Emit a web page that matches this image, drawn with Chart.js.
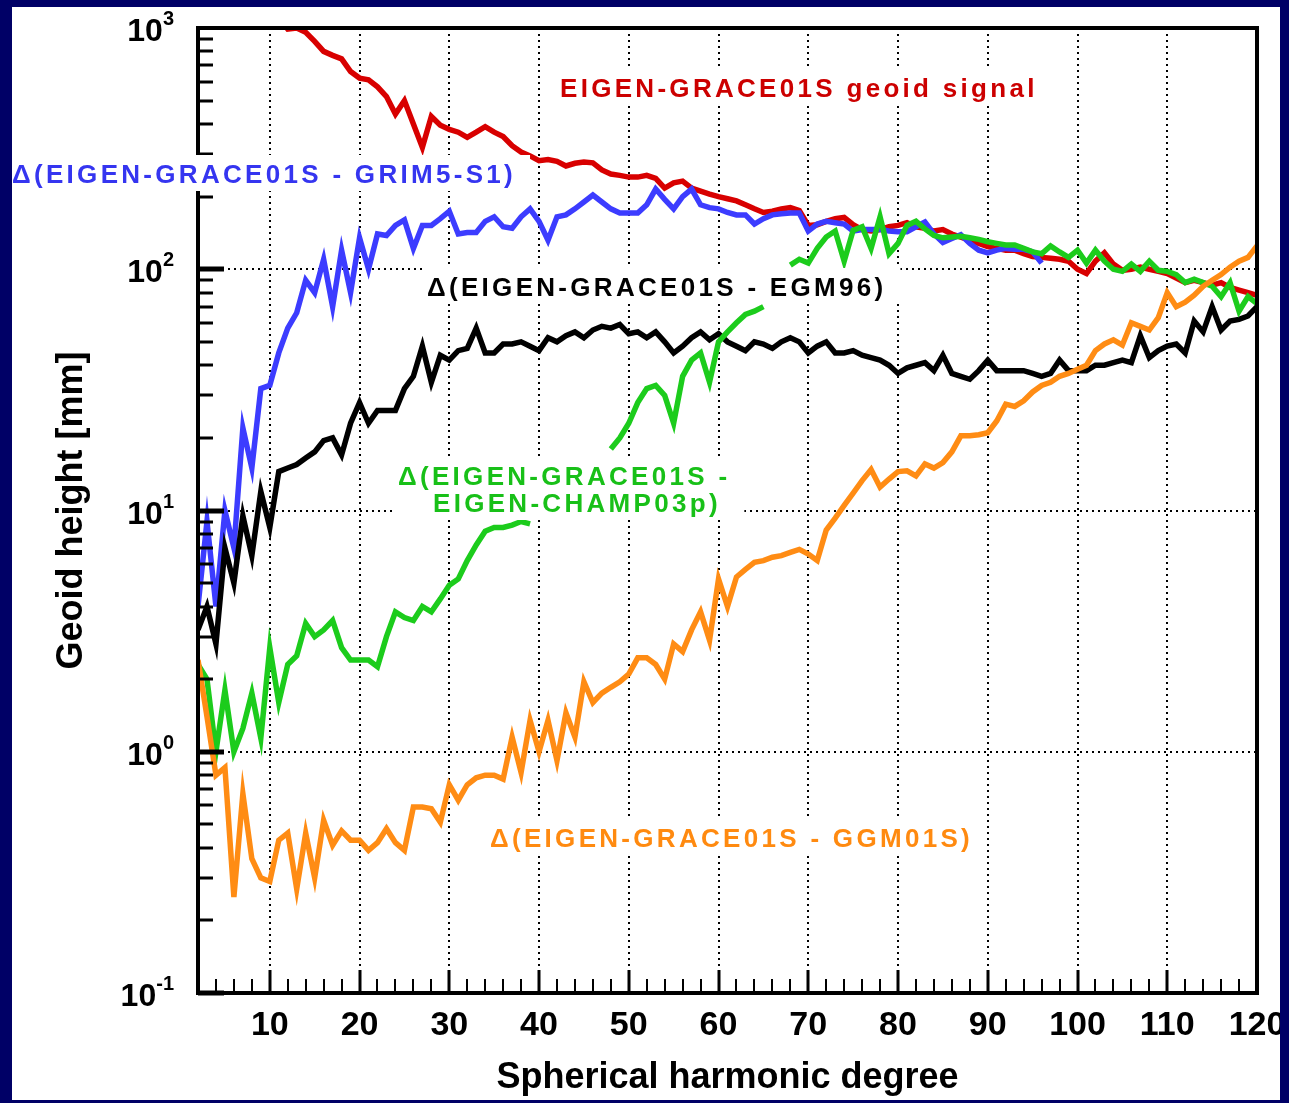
<!DOCTYPE html>
<html>
<head>
<meta charset="utf-8">
<script src="https://cdn.jsdelivr.net/npm/chart.js@4.4.1/dist/chart.umd.min.js"></script>
<style>
  html, body { margin: 0; padding: 0; background: #000066; width: 1289px; height: 1103px; overflow: hidden; }
  #wrap { position: absolute; left: 12px; top: 7px; width: 1268px; height: 1093px; background: #fff; }
</style>
</head>
<body>
<div id="wrap"><canvas id="geoidChart" width="1268" height="1093"></canvas></div>
<script>
const degree = [
  2, 3, 4, 5, 6, 7, 8, 9,
  10, 11, 12, 13, 14, 15, 16, 17, 18, 19,
  20, 21, 22, 23, 24, 25, 26, 27, 28, 29,
  30, 31, 32, 33, 34, 35, 36, 37, 38, 39,
  40, 41, 42, 43, 44, 45, 46, 47, 48, 49,
  50, 51, 52, 53, 54, 55, 56, 57, 58, 59,
  60, 61, 62, 63, 64, 65, 66, 67, 68, 69,
  70, 71, 72, 73, 74, 75, 76, 77, 78, 79,
  80, 81, 82, 83, 84, 85, 86, 87, 88, 89,
  90, 91, 92, 93, 94, 95, 96, 97, 98, 99,
  100, 101, 102, 103, 104, 105, 106, 107, 108, 109,
  110, 111, 112, 113, 114, 115, 116, 117, 118, 119,
  120,
]

// EIGEN-GRACE01S geoid signal [mm]
const geoidSignal = [
  null, null, null, null, null, null, null, null,
  null, 1100, 990, 1000, 960, 880, 800, 770, 745, 660,
  620, 610, 570, 520, 440, 500, 400, 320, 430, 395,
  380, 370, 352, 370, 390, 370, 355, 325, 306, 295,
  282, 285, 280, 268, 275, 278, 276, 258, 248, 245,
  241, 241, 245, 238, 217, 228, 232, 217, 211, 205,
  200, 196, 192, 185, 178, 172, 174, 178, 180, 175,
  152, 153, 158, 162, 164, 153, 146, 144, 146, 150,
  152, 156, 150, 148, 144, 146, 140, 136, 132, 128,
  124, 122, 120, 120, 116, 113, 112, 111, 110, 108,
  100, 96, 108, 117, 105, 99, 100, 102, 100, 98,
  96, 92, 88, 90, 88, 86, 88, 84, 82, 80,
  78,
]

// differences [mm]
const diffGrim5 = [
  4, 9, 4, 10, 7, 22, 15, 32,
  33, 45, 57, 66, 90, 80, 110, 70, 120, 80,
  135, 100, 140, 138, 152, 160, 122, 152, 152, 162,
  174, 140, 142, 142, 158, 165, 150, 148, 165, 178,
  158, 132, 165, 168, 178, 190, 203, 190, 178, 171,
  171, 171, 185, 215, 195, 178, 200, 215, 185, 180,
  178, 172, 168, 168, 154, 162, 168, 170, 171, 171,
  144, 154, 158, 156, 154, 144, 146, 146, 146, 144,
  143, 143, 150, 157, 140, 129, 134, 139, 128, 120,
  117, 120, 122, 121, 121, 118, 106, null, null, null,
  null, null, null, null, null, null, null, null, null, null,
  null, null, null, null, null, null, null, null, null, null,
  null,
]

const diffEgm96 = [
  3.2, 4.0, 2.8, 7.0, 5.0, 9.5, 6.5, 12,
  8.5, 14.5, 15, 15.5, 16.5, 17.5, 19.5, 20, 17, 23,
  28, 23, 26, 26, 26, 32, 36, 48, 34, 44,
  42, 46, 47, 57, 45, 45, 49, 49, 50, 48,
  46, 52, 50, 53, 55, 52, 56, 58, 57, 59,
  54, 55, 52, 55, 50, 45, 48, 52, 55, 51,
  54, 50, 48, 46, 50, 49, 47, 50, 52, 50,
  45, 48, 50, 45, 45, 46, 44, 43, 42, 40,
  37, 39, 40, 41, 38, 44, 37, 36, 35, 38,
  42, 38, 38, 38, 38, 37, 36, 37, 42, 38,
  38, 38, 40, 40, 41, 42, 41, 53, 43, 46,
  48, 49, 45, 61, 55, 70, 56, 61, 62, 64,
  70,
]

const diffChamp = [
  2.3, 2.0, 1.0, 1.8, 1.0, 1.25, 1.75, 1.14,
  2.7, 1.6, 2.3, 2.5, 3.4, 3.0, 3.2, 3.5, 2.7, 2.4,
  2.4, 2.4, 2.25, 3.0, 3.8, 3.6, 3.5, 4.0, 3.8, 4.3,
  4.9, 5.2, 6.2, 7.2, 8.2, 8.5, 8.5, 8.7, 9.0, 8.8,
  null, null, null, null, null, null, null, null, 18, 20,
  23, 28, 32, 33, 30, 23, 36, 42, 45, 34,
  50, 55, 60, 65, 67, 70, null, null, 104, 110,
  106, 122, 136, 144, 108, 145, 150, 122, 165, 116,
  128, 152, 158, 147, 138, 135, 136, 137, 135, 133,
  130, 128, 126, 126, 122, 118, 116, 125, 118, 112,
  120, 106, 120, 108, 100, 98, 105, 98, 108, 99,
  98, 95, 88, 91, 88, 85, 77, 88, 67, 77,
  72,
]

const diffGgm01 = [
  2.4, 1.4, 0.8, 0.86, 0.25, 0.67, 0.36, 0.30,
  0.29, 0.43, 0.46, 0.27, 0.46, 0.30, 0.52, 0.41, 0.47, 0.43,
  0.43, 0.39, 0.42, 0.48, 0.42, 0.39, 0.59, 0.59, 0.58, 0.51,
  0.73, 0.63, 0.73, 0.78, 0.80, 0.80, 0.77, 1.15, 0.82, 1.35,
  1.0, 1.35, 0.92, 1.45, 1.15, 1.95, 1.6, 1.75, 1.85, 1.95,
  2.1, 2.45, 2.45, 2.3, 2.0, 2.8, 2.6, 3.2, 3.8, 2.9,
  5.2, 4.0, 5.3, 5.7, 6.1, 6.2, 6.4, 6.5, 6.7, 6.9,
  6.6, 6.2, 8.3, 9.3, 10.5, 11.8, 13.3, 14.8, 12.5, 13.5,
  14.5, 14.6, 13.9, 15.6, 15.0, 15.8, 17.5, 20.4, 20.4, 20.6,
  21, 23.5, 27.6, 27, 28.5, 31, 33, 34, 36, 37,
  38.5, 40, 46, 49, 51, 48.5, 60, 58, 56, 63,
  80, 70, 73, 78, 85, 90, 95, 102, 108, 112,
  125,
]

const xTicks = [10, 20, 30, 40, 50, 60, 70, 80, 90, 100, 110, 120]
const yTicks = [0.1, 1, 10, 100, 1000]
const yTickExp = ['-1', '0', '1', '2', '3']

const FONT = '"Liberation Sans", Arial, Helvetica, sans-serif'

// curve labels, canvas pixels (white box behind like the original plot)
const notes = [
  { lines: ['EIGEN-GRACE01S geoid signal'], color: '#cc0000', x: [548], y: [81] },
  { lines: ['Δ(EIGEN-GRACE01S - GRIM5-S1)'], color: '#3535f0', x: [0], y: [167] },
  { lines: ['Δ(EIGEN-GRACE01S - EGM96)'], color: '#000000', x: [415], y: [280] },
  { lines: ['Δ(EIGEN-GRACE01S -', 'EIGEN-CHAMP03p)'], color: '#18c018', x: [386, 421], y: [469, 496] },
  { lines: ['Δ(EIGEN-GRACE01S - GGM01S)'], color: '#ff8a10', x: [478], y: [831] },
]

function pts(vals) {
  return degree.map((d, i) => ({ x: d, y: vals[i] }))
}

const plotDecor = {
  id: 'plotDecor',
  beforeDatasetsDraw(chart) {
    const { ctx, chartArea: a, scales: { x, y } } = chart
    ctx.save()
    ctx.strokeStyle = '#000'
    ctx.lineWidth = 2
    ctx.setLineDash([2, 4])
    xTicks.slice(0, -1).forEach(function (v) {
      const px = Math.round(x.getPixelForValue(v))
      ctx.beginPath(); ctx.moveTo(px, a.top); ctx.lineTo(px, a.bottom); ctx.stroke()
    })
    yTicks.slice(1, -1).forEach(function (v) {
      const py = Math.round(y.getPixelForValue(v))
      ctx.beginPath(); ctx.moveTo(a.left, py); ctx.lineTo(a.right, py); ctx.stroke()
    })
    ctx.restore()
  },
  afterDatasetsDraw(chart) {
    const { ctx, chartArea: a, scales: { x, y } } = chart
    ctx.save()
    ctx.strokeStyle = '#000'
    ctx.setLineDash([])

    // inward ticks, left axis
    for (let e = -1; e < 3; e++) {
      for (let k = 1; k < 10; k++) {
        const py = Math.round(y.getPixelForValue(k * Math.pow(10, e)))
        ctx.lineWidth = k === 1 ? 5 : 3
        ctx.beginPath(); ctx.moveTo(a.left, py); ctx.lineTo(a.left + (k === 1 ? 26 : 15), py); ctx.stroke()
      }
    }
    // inward ticks, bottom axis
    for (let d = 4; d < 120; d += 2) {
      const px = Math.round(x.getPixelForValue(d))
      const major = d % 10 === 0
      ctx.lineWidth = major ? 3 : 2
      ctx.beginPath(); ctx.moveTo(px, a.bottom); ctx.lineTo(px, a.bottom - (major ? 23 : 14)); ctx.stroke()
    }
    ctx.lineWidth = 4
    ctx.strokeRect(a.left, a.top, a.right - a.left, a.bottom - a.top)

    // y tick labels 10^n
    ctx.fillStyle = '#000'
    ctx.textBaseline = 'alphabetic'
    yTicks.forEach(function (v, i) {
      const py = y.getPixelForValue(v)
      ctx.font = 'bold 20px ' + FONT
      const supW = ctx.measureText(yTickExp[i]).width
      ctx.font = 'bold 32px ' + FONT
      const baseW = ctx.measureText('10').width
      const right = a.left - 24
      ctx.fillText('10', right - supW - baseW, py + 13)
      ctx.font = 'bold 20px ' + FONT
      ctx.fillText(yTickExp[i], right - supW, py - 3)
    })

    // curve labels
    ctx.font = 'bold 26px ' + FONT
    if ('letterSpacing' in ctx) ctx.letterSpacing = '3.3px'
    notes.forEach(function (n) {
      let x0 = Infinity, x1 = -Infinity
      n.lines.forEach(function (t, j) {
        x0 = Math.min(x0, n.x[j])
        x1 = Math.max(x1, n.x[j] + ctx.measureText(t).width)
      })
      const y0 = Math.min.apply(null, n.y) - 19
      const y1 = Math.max.apply(null, n.y) + 17
      ctx.fillStyle = '#fff'
      ctx.fillRect(x0 - 4, y0, x1 - x0 + 18, y1 - y0)
      ctx.fillStyle = n.color
      n.lines.forEach(function (t, j) {
        ctx.fillText(t, n.x[j], n.y[j] + 9)
      })
    })
    ctx.restore()
  },
}

window.onload = function () {
  const ctx = document.getElementById('geoidChart')

  const line = function (label, vals, color, order) {
    return {
      label: label,
      data: pts(vals),
      borderColor: color,
      backgroundColor: color,
      borderWidth: 5.5,
      pointRadius: 0,
      tension: 0,
      spanGaps: false,
      order: order,
    }
  }

  const geoidChart = new Chart(ctx, {
    type: 'line',
    data: {
      datasets: [
        line('EIGEN-GRACE01S geoid signal', geoidSignal, '#d80000', 4),
        line('Δ(EIGEN-GRACE01S - GRIM5-S1)', diffGrim5, '#3c3cff', 3),
        line('Δ(EIGEN-GRACE01S - EGM96)', diffEgm96, '#000000', 2),
        line('Δ(EIGEN-GRACE01S - EIGEN-CHAMP03p)', diffChamp, '#1ccc1c', 1),
        line('Δ(EIGEN-GRACE01S - GGM01S)', diffGgm01, '#ff8c14', 0),
      ],
    },
    options: {
      responsive: false,
      animation: false,
      events: [],
      layout: { autoPadding: false, padding: { top: 21, right: 23, left: 0, bottom: 0 } },
      plugins: {
        legend: { display: false },
        tooltip: { enabled: false },
      },
      scales: {
        x: {
          type: 'linear',
          min: 2,
          max: 120,
          afterBuildTicks: function (scale) {
            scale.ticks = xTicks.map(function (v) { return { value: v } })
          },
          afterFit: function (scale) {
            scale.height = 107
            scale.paddingLeft = 0
            scale.paddingRight = 0
          },
          grid: { display: false, drawTicks: false },
          border: { display: false },
          ticks: {
            autoSkip: false,
            maxRotation: 0,
            padding: 12,
            color: '#000',
            font: { family: FONT, size: 34, weight: 'bold' },
          },
          title: {
            display: true,
            text: 'Spherical harmonic degree',
            color: '#000',
            padding: 0,
            font: { family: FONT, size: 36, weight: 'bold' },
          },
        },
        y: {
          type: 'logarithmic',
          min: 0.1,
          max: 1000,
          afterFit: function (scale) {
            scale.width = 186
            scale.paddingTop = 0
            scale.paddingBottom = 0
          },
          grid: { display: false, drawTicks: false },
          border: { display: false },
          ticks: { display: false },
          title: {
            display: true,
            text: 'Geoid height [mm]',
            color: '#000',
            padding: { top: 38, bottom: 0 },
            font: { family: FONT, size: 36, weight: 'bold' },
          },
        },
      },
    },
    plugins: [plotDecor],
  })
}
</script>
</body>
</html>
